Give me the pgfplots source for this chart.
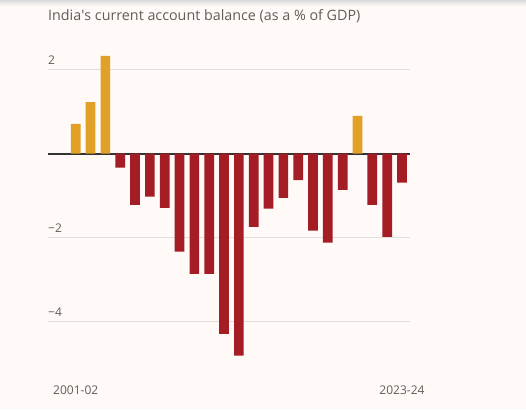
\documentclass[border=0pt]{standalone}
\usepackage{pgfplots}
\pgfplotsset{compat=1.18}
\usepackage{fontspec}
\setmainfont{Open Sans}
\definecolor{bg}{HTML}{FFF9F8}
\definecolor{gold}{HTML}{E0A126}
\definecolor{bred}{HTML}{A51D24}
\definecolor{txt}{HTML}{625C59}
\definecolor{gridc}{HTML}{E2DEDC}
\definecolor{zeroc}{HTML}{333333}
\begin{document}
\begin{tikzpicture}
\fill[bg] (0,0) rectangle (526pt,409pt);
\path[use as bounding box] (0,0) rectangle (526pt,409pt);
\shade[top color=black!14, bottom color=bg] (0,403pt) rectangle (526pt,409pt);
\node[anchor=base west, inner sep=0pt, text=txt, font=\fontsize{14.3}{17}\selectfont] at (48pt,388pt) {India\textquotesingle s current account balance (as a \% of GDP)};
\begin{axis}[
  at={(48pt,45.3pt)}, anchor=south west,
  scale only axis, width=362pt, height=315pt,
  xmin=-1.87, xmax=22.54, ymin=-5, ymax=2.5,
  axis line style={draw=none},
  major tick style={draw=none},
  ytick={-4,-2,2},
  yticklabels={−4,−2,2},
  ymajorgrids=true,
  grid style={gridc, line width=0.8pt},
  extra y ticks={0},
  extra y tick labels={},
  extra y tick style={grid style={zeroc, line width=1.7pt}},
  yticklabel style={anchor=base west, inner sep=0pt, yshift=5.5pt, text=txt, font=\fontsize{12}{14}\selectfont},
  xtick={0,22},
  xticklabels={2001-02,2023-24},
  xticklabel style={anchor=base, inner sep=0pt, yshift=-30.6pt, text=txt, font=\fontsize{12}{14}\selectfont},
  clip=false,
]
\addplot[ybar, bar width=9.7pt, bar shift=0pt, fill=gold, draw=none] coordinates {
(0,0.71) (1,1.23) (2,2.33) (19,0.90)
};
\addplot[ybar, bar width=9.7pt, bar shift=0pt, fill=bred, draw=none] coordinates {
(3,-0.33) (4,-1.22) (5,-1.02) (6,-1.29) (7,-2.33) (8,-2.86) (9,-2.86)
(10,-4.29) (11,-4.81) (12,-1.74) (13,-1.31) (14,-1.05) (15,-0.63)
(16,-1.83) (17,-2.12) (18,-0.86) (20,-1.22) (21,-1.98) (22,-0.69)
};
\end{axis}
\end{tikzpicture}
\end{document}
